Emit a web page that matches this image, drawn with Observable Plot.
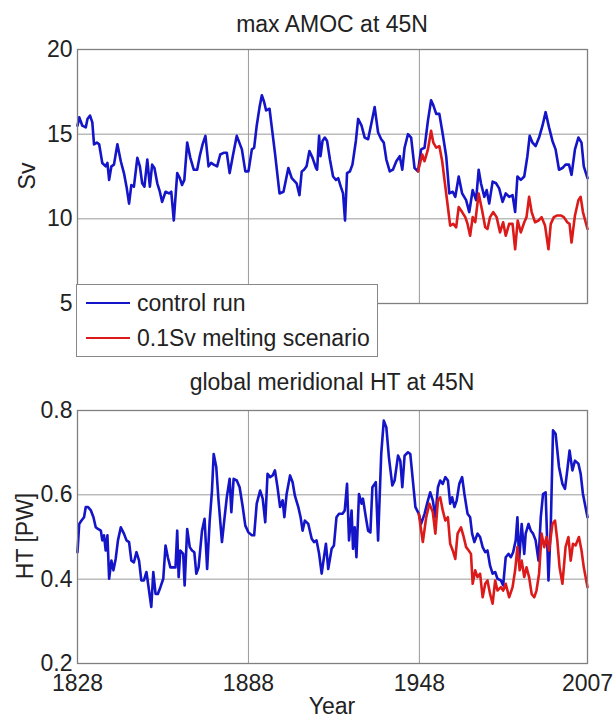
<!DOCTYPE html>
<html><head><meta charset="utf-8">
<script src="https://cdn.jsdelivr.net/npm/d3@7"></script>
<script src="https://cdn.jsdelivr.net/npm/@observablehq/plot@0.6"></script>
<style>
body{margin:0;background:#fff;}
#wrap{position:relative;width:614px;height:718px;font-family:"Liberation Sans",Arial,sans-serif;color:#222;overflow:hidden;}
.abs{position:absolute;white-space:nowrap;}
.title{font-size:23px;line-height:24px;height:24px;width:510px;left:77px;text-align:center;}
.ylab{font-size:23px;line-height:24px;height:24px;width:200px;text-align:center;transform:rotate(-90deg);}
#legend{left:76px;top:284px;width:302px;height:73px;box-sizing:border-box;border:1.5px solid #888;background:#fff;}
.lline{position:absolute;left:9px;width:44px;height:2.5px;}
.ltext{position:absolute;left:60px;font-size:23px;line-height:24px;height:24px;}
</style></head>
<body><div id="wrap"></div>
<script>
// ---- data ----
const ctrlAmocYear = [1828.0,1828.6,1829.7,1830.9,1831.5,1832.4,1833.2,1833.8,1834.8,1835.6,1836.7,1837.9,1838.5,1839.1,1839.9,1840.8,1842.0,1843.2,1844.3,1845.2,1846.1,1846.9,1847.8,1849.0,1849.9,1850.7,1851.5,1852.5,1853.4,1854.2,1855.0,1856.0,1856.9,1857.7,1858.9,1860.1,1860.9,1861.8,1863.0,1863.9,1864.7,1865.5,1866.5,1867.6,1868.8,1870.0,1870.9,1871.9,1872.9,1874.0,1874.9,1875.8,1877.0,1878.1,1879.3,1880.4,1881.4,1882.5,1883.9,1885.7,1886.9,1888.0,1889.2,1890.0,1890.9,1891.9,1892.7,1893.5,1894.2,1895.4,1896.2,1897.3,1898.9,1900.3,1902.0,1903.2,1904.9,1905.9,1906.7,1907.5,1908.4,1909.4,1910.5,1911.7,1912.1,1912.8,1913.3,1914.0,1914.8,1915.6,1916.6,1917.7,1918.7,1919.5,1920.4,1921.2,1921.9,1922.6,1923.6,1924.5,1925.7,1926.5,1927.7,1928.8,1930.0,1931.1,1932.3,1933.5,1934.6,1935.5,1936.4,1937.6,1938.7,1939.9,1941.1,1942.0,1942.8,1944.0,1945.1,1946.3,1947.5,1948.6,1949.8,1951.0,1952.1,1952.9,1953.9,1955.0,1956.2,1957.4,1958.5,1959.7,1960.6,1961.8,1963.0,1964.4,1965.5,1966.7,1967.9,1968.8,1969.6,1970.8,1971.6,1972.5,1973.7,1974.9,1976.0,1977.2,1978.3,1979.5,1980.7,1981.6,1982.4,1983.6,1984.8,1985.9,1986.7,1987.7,1988.8,1990.0,1991.2,1992.3,1993.5,1994.7,1995.8,1997.0,1998.2,1999.3,2000.5,2001.4,2002.6,2003.8,2004.9,2005.7,2007.0];
const ctrlAmoc = [15.5,16.0,15.5,15.4,15.9,16.1,15.7,14.4,14.5,14.4,13.3,13.1,13.3,12.3,13.1,13.2,14.4,13.4,12.7,11.9,10.9,12.0,11.9,13.6,13.1,12.1,11.9,13.5,11.9,13.2,13.0,12.1,11.6,11.0,11.6,11.5,11.6,9.9,12.7,12.4,12.0,12.3,14.5,13.6,12.9,12.9,13.7,14.4,14.9,13.1,13.3,13.2,13.1,13.8,13.9,13.9,12.7,13.7,14.9,14.1,12.8,12.8,14.1,14.2,15.5,16.6,17.3,16.9,16.4,16.5,15.4,13.9,11.5,11.6,13.0,12.4,12.1,11.4,12.8,12.9,13.1,14.0,13.6,13.0,12.9,14.9,13.7,14.6,14.8,14.6,13.5,12.5,12.3,12.4,11.9,11.5,9.9,12.7,12.8,13.2,14.6,15.9,15.5,14.8,14.7,15.6,16.6,15.1,14.7,14.5,13.5,12.8,12.9,13.4,13.7,12.9,14.2,15.0,14.8,13.0,12.8,14.1,14.2,15.8,17.0,16.7,16.2,16.2,15.0,13.7,11.5,11.6,11.3,12.5,11.5,11.1,10.4,11.7,11.1,12.9,12.1,11.3,11.7,10.9,12.2,12.1,11.8,11.0,11.5,11.3,11.4,10.4,12.5,12.3,12.5,13.7,14.9,14.5,14.3,14.8,15.5,16.3,15.4,14.6,14.1,12.9,13.0,13.2,13.2,12.6,14.1,14.8,14.5,13.1,12.4];
const meltAmocYear = [1947.5,1949.0,1949.8,1951.0,1952.1,1952.9,1953.9,1955.0,1956.0,1956.8,1958.0,1958.8,1959.9,1960.9,1961.8,1963.0,1964.1,1964.9,1965.8,1966.7,1967.6,1968.8,1970.0,1971.1,1971.9,1972.8,1973.9,1975.1,1976.3,1977.4,1978.3,1979.5,1980.7,1981.6,1982.5,1983.6,1984.8,1985.6,1986.5,1987.4,1988.6,1989.8,1990.9,1992.1,1993.3,1994.1,1995.2,1996.4,1997.6,1998.7,1999.9,2000.7,2001.4,2002.6,2003.8,2004.6,2005.4,2007.0];
const meltAmoc = [12.8,13.8,13.4,14.1,15.2,14.5,14.2,14.3,13.4,12.3,10.7,9.6,9.7,9.5,10.7,10.4,10.1,9.7,9.0,10.1,9.8,11.5,10.5,9.5,9.4,10.1,10.4,10.1,9.2,9.8,9.0,9.7,9.7,8.2,9.9,9.2,9.8,10.1,11.3,10.4,9.8,9.9,10.1,9.6,8.2,9.7,10.1,10.2,10.2,10.1,9.8,9.7,8.6,10.2,11.1,11.3,10.4,9.4];

const ctrlHtYear = [1828.0,1828.6,1829.4,1830.3,1830.9,1831.7,1832.7,1833.6,1834.4,1835.2,1836.2,1836.7,1837.3,1837.9,1838.5,1839.1,1839.9,1840.6,1841.4,1842.2,1843.2,1844.3,1845.2,1846.1,1846.9,1847.8,1848.7,1849.6,1850.4,1851.3,1852.2,1853.1,1853.9,1854.6,1855.4,1856.2,1857.1,1858.1,1858.9,1859.7,1860.6,1861.6,1862.4,1863.0,1863.5,1864.1,1865.1,1865.6,1866.5,1867.4,1868.2,1869.0,1869.7,1870.5,1871.7,1872.6,1873.5,1874.4,1875.2,1875.8,1876.7,1877.5,1878.7,1879.5,1880.4,1881.4,1882.0,1882.8,1883.9,1884.9,1886.0,1886.9,1888.0,1889.2,1890.0,1890.9,1892.1,1893.0,1893.9,1894.7,1895.6,1896.5,1897.3,1898.2,1899.1,1900.0,1900.6,1901.4,1902.6,1903.5,1904.3,1905.5,1906.3,1907.0,1907.8,1909.0,1910.2,1911.0,1911.9,1912.8,1913.7,1914.5,1915.2,1916.0,1917.2,1918.0,1918.9,1919.8,1921.0,1921.8,1922.6,1923.3,1924.2,1924.7,1925.3,1925.9,1926.8,1927.7,1928.2,1929.2,1930.0,1930.8,1931.5,1932.7,1933.5,1934.6,1935.5,1936.4,1937.3,1938.5,1939.3,1940.5,1941.3,1942.0,1942.8,1944.0,1944.8,1945.7,1946.6,1947.8,1948.6,1949.8,1951.0,1951.8,1952.7,1953.6,1954.5,1955.3,1956.2,1957.1,1958.0,1958.8,1959.5,1960.3,1961.1,1962.0,1963.0,1963.8,1964.9,1965.8,1966.5,1967.3,1968.4,1969.3,1970.2,1971.1,1971.9,1972.8,1973.7,1974.6,1975.4,1976.6,1977.4,1978.3,1979.3,1980.1,1980.9,1981.8,1982.4,1983.0,1983.9,1984.8,1985.3,1986.3,1987.1,1987.9,1988.8,1989.8,1990.6,1991.4,1992.3,1993.3,1994.1,1994.9,1995.8,1997.0,1998.2,1999.1,1999.9,2000.7,2001.7,2002.6,2003.8,2004.6,2005.4,2007.0];
const ctrlHt = [0.464,0.531,0.539,0.547,0.571,0.571,0.563,0.547,0.523,0.519,0.515,0.492,0.504,0.468,0.504,0.401,0.444,0.421,0.448,0.492,0.523,0.508,0.492,0.488,0.444,0.440,0.464,0.444,0.397,0.397,0.417,0.373,0.334,0.417,0.365,0.365,0.381,0.401,0.480,0.452,0.428,0.428,0.428,0.515,0.405,0.468,0.460,0.385,0.519,0.476,0.468,0.464,0.413,0.428,0.515,0.543,0.424,0.539,0.610,0.697,0.666,0.587,0.488,0.539,0.594,0.638,0.559,0.638,0.634,0.618,0.571,0.527,0.511,0.504,0.504,0.579,0.610,0.591,0.535,0.650,0.642,0.646,0.658,0.618,0.571,0.587,0.547,0.602,0.646,0.630,0.598,0.571,0.547,0.515,0.539,0.531,0.496,0.488,0.492,0.460,0.413,0.452,0.484,0.424,0.472,0.480,0.547,0.555,0.555,0.563,0.626,0.492,0.563,0.472,0.523,0.452,0.602,0.579,0.591,0.547,0.515,0.511,0.618,0.630,0.492,0.697,0.776,0.760,0.689,0.622,0.634,0.693,0.681,0.618,0.693,0.701,0.697,0.634,0.571,0.555,0.531,0.555,0.587,0.606,0.587,0.547,0.618,0.634,0.626,0.642,0.634,0.579,0.594,0.571,0.587,0.626,0.642,0.602,0.555,0.547,0.508,0.488,0.508,0.500,0.476,0.464,0.468,0.432,0.413,0.417,0.401,0.397,0.385,0.452,0.460,0.452,0.464,0.492,0.547,0.444,0.531,0.460,0.508,0.531,0.515,0.508,0.492,0.444,0.547,0.602,0.606,0.397,0.523,0.753,0.745,0.666,0.626,0.614,0.658,0.705,0.658,0.681,0.674,0.650,0.602,0.547];
const meltHtYear = [1947.8,1949.2,1950.4,1951.5,1952.7,1953.6,1954.5,1955.3,1956.2,1957.1,1958.0,1958.8,1959.7,1960.6,1961.4,1962.6,1963.4,1964.4,1965.3,1966.1,1966.7,1967.6,1968.4,1969.3,1970.2,1971.1,1971.9,1972.8,1973.7,1974.6,1975.4,1976.6,1977.4,1978.3,1979.5,1980.7,1981.6,1982.4,1983.2,1983.9,1984.8,1985.6,1986.5,1987.4,1988.3,1989.1,1990.0,1990.9,1991.8,1992.6,1993.5,1994.7,1995.6,1996.4,1997.2,1998.2,1999.3,2000.3,2001.1,2001.9,2002.8,2004.0,2004.9,2005.7,2007.0];
const meltHt = [0.555,0.488,0.547,0.579,0.559,0.508,0.587,0.594,0.563,0.539,0.547,0.484,0.468,0.448,0.508,0.523,0.504,0.476,0.468,0.460,0.389,0.421,0.405,0.413,0.357,0.389,0.397,0.365,0.342,0.397,0.373,0.381,0.373,0.389,0.357,0.381,0.421,0.476,0.421,0.444,0.405,0.428,0.405,0.365,0.357,0.373,0.413,0.508,0.476,0.500,0.468,0.531,0.539,0.492,0.428,0.389,0.476,0.500,0.444,0.484,0.480,0.500,0.468,0.428,0.381];

const xDomain = [1828, 2007];
const xTicks = [1828, 1888, 1948, 2007];
const amocTicks = [5, 10, 15, 20];
const htTicks = [0.2, 0.4, 0.6, 0.8];
const seriesNames = ["control run", "0.1Sv melting scenario"];
const titles = ["max AMOC at 45N", "global meridional HT at 45N"];
const yLabels = ["Sv", "HT [PW]"];
const xLabel = "Year";

// ---- styles ----
const BLUE = "#1414c8", RED = "#dc1a1a", GRID = "#9a9a9a", FRAME = "#808080";
const FONT = '"Liberation Sans", Arial, sans-serif';
const zip = (xs, ys) => xs.map((x, i) => ({x, y: ys[i]}));

const wrap = document.getElementById("wrap");
function addDiv(cls, text, css) {
  const d = document.createElement("div");
  d.className = "abs " + cls;
  d.textContent = text;
  Object.assign(d.style, css);
  wrap.appendChild(d);
  return d;
}

function panel({ctrl, melt, yDomain, yTicks, yFmt, showX, height, marginBottom, top}) {
  const p = Plot.plot({
    width: 614, height,
    marginLeft: 77, marginRight: 27, marginTop: 49, marginBottom,
    style: {fontFamily: FONT, fontSize: "23px", color: "#222", background: "transparent", overflow: "visible"},
    x: showX
      ? {domain: xDomain, ticks: xTicks, tickFormat: d => String(d), tickSize: 0, tickPadding: 11, label: null}
      : {domain: xDomain, axis: null},
    y: {domain: yDomain, ticks: yTicks, tickFormat: yFmt, tickSize: 0, tickPadding: 5, label: null},
    marks: [
      Plot.ruleY(yTicks.slice(1, -1), {stroke: GRID, strokeWidth: 1}),
      Plot.ruleX(xTicks.slice(1, -1), {stroke: GRID, strokeWidth: 1}),
      Plot.line(ctrl, {x: "x", y: "y", stroke: BLUE, strokeWidth: 2.6, strokeLinejoin: "round"}),
      Plot.line(melt, {x: "x", y: "y", stroke: RED, strokeWidth: 2.6, strokeLinejoin: "round"}),
      Plot.frame({stroke: FRAME, strokeWidth: 1.3})
    ]
  });
  p.style.position = "absolute";
  p.style.left = "0px";
  p.style.top = top + "px";
  wrap.appendChild(p);
}

panel({ctrl: zip(ctrlAmocYear, ctrlAmoc), melt: zip(meltAmocYear, meltAmoc),
  yDomain: [5, 20], yTicks: amocTicks, yFmt: d => String(d), showX: false,
  height: 330, marginBottom: 27, top: 0});
panel({ctrl: zip(ctrlHtYear, ctrlHt), melt: zip(meltHtYear, meltHt),
  yDomain: [0.2, 0.8], yTicks: htTicks, yFmt: d3.format(".1f"), showX: true,
  height: 357, marginBottom: 55, top: 361});

// titles and labels
addDiv("title", titles[0], {top: "12px"});
addDiv("title", titles[1], {top: "370px"});
addDiv("ylab", yLabels[0], {left: (27 - 100) + "px", top: (176 - 12) + "px"});
addDiv("ylab", yLabels[1], {left: (25 - 100) + "px", top: (536 - 12) + "px"});
addDiv("title", xLabel, {top: "694px"});

// legend
const leg = addDiv("", "", {});
leg.id = "legend";
[[BLUE, 18], [RED, 53]].forEach(([c, cy], i) => {
  const ln = document.createElement("div");
  ln.className = "lline";
  ln.style.background = c;
  ln.style.top = (cy - 1.25) + "px";
  leg.appendChild(ln);
  const t = document.createElement("div");
  t.className = "ltext";
  t.textContent = seriesNames[i];
  t.style.top = (cy - 12) + "px";
  leg.appendChild(t);
});
</script></body></html>
